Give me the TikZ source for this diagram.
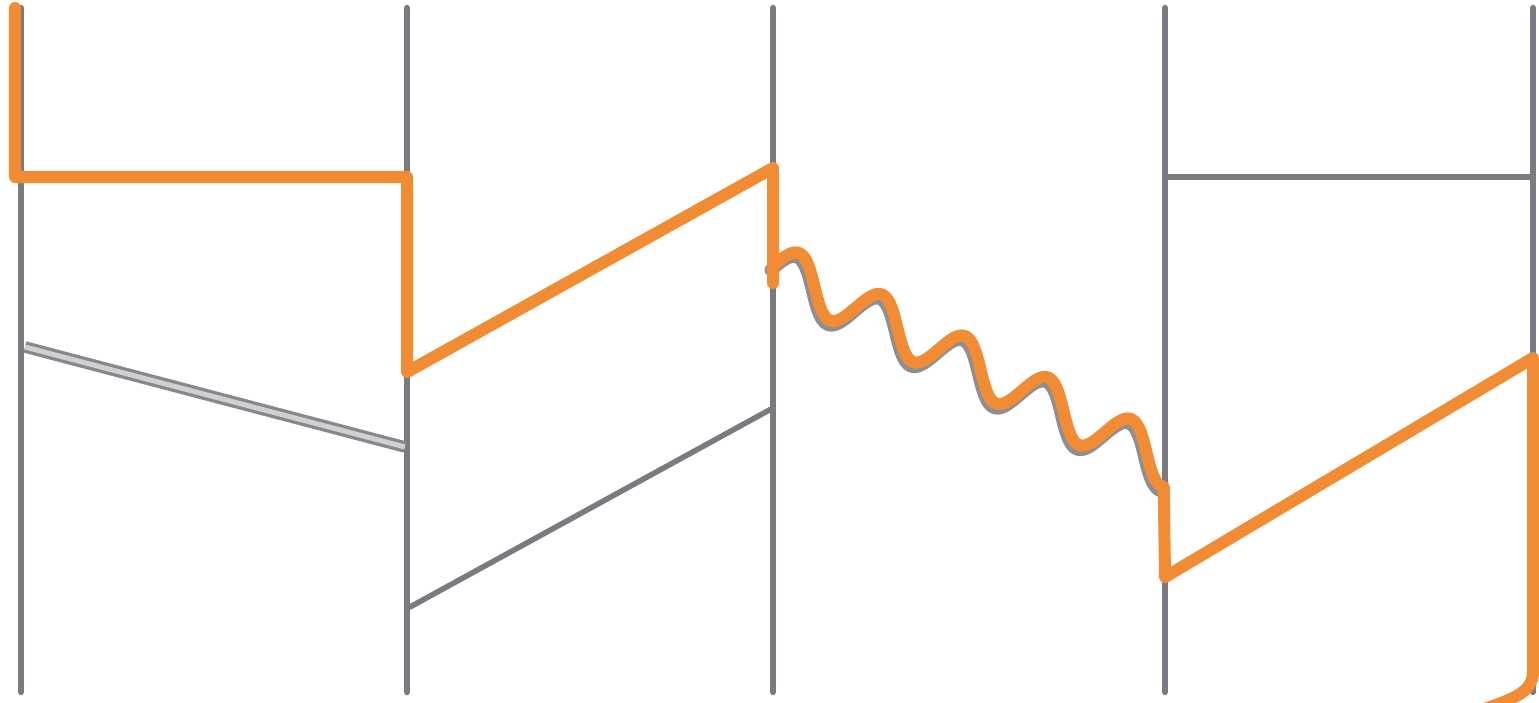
\documentclass[tikz,border=0pt]{standalone}
\usepackage{tikz}
\usetikzlibrary{calc}
\usepackage{xcolor}
\definecolor{hoporange}{RGB}{242,140,52}
\definecolor{lanegray}{RGB}{122,122,128}
\tikzset{
  lane/.style={draw=lanegray, line width=0.065cm, line cap=round},
  msg/.style={draw=lanegray, line width=0.055cm, line cap=round},
  msgD/.style={draw=lanegray!90, double=lanegray!35,
    double distance=0.05cm, line width=0.033cm},
  hop/.style={draw=hoporange, line width=0.12cm,
    line cap=round, line join=round},
  hopS/.style={draw=lanegray!85, line width=0.13cm, line cap=round},
}

\begin{document}
\begin{tikzpicture}[x=0.01cm, y=-0.01cm]
  % Frame (pixel grid of the sketch)
  \useasboundingbox (0,0) rectangle (1539,703);

  % Vertical lanes
  \draw[lane] (21,8)   -- (21,692);
  \draw[lane] (407,8)  -- (407,692);
  \draw[lane] (773,8)  -- (773,692);
  \draw[lane] (1165,8) -- (1165,692);
  \draw[lane] (1533,8) -- (1533,692);

  % Grey crossings
  \draw[msgD] (25,347)  -- (405,447);
  \draw[msg]  (410,607) -- (773,408);
  \draw[msg]  (1165,177) -- (1533,177);

  % Shadow under the wavy hop
  \begin{scope}[xshift=-0.02cm, yshift=-0.04cm]
    \draw[hopS] plot[domain=0:1720, samples=240]
      ({773 + 0.2306*\x + 6*sin(\x)}, {266 + 0.1153*\x - 23*sin(\x)});
  \end{scope}

  % Orange route
  \draw[hop] (15,8) -- (15,177) -- (407,177) -- (407,372)
       -- (773,168) -- (773,283)
       plot[domain=0:1720, samples=240]
         ({773 + 0.2306*\x + 6*sin(\x)}, {266 + 0.1153*\x - 23*sin(\x)})
       -- (1165,577) -- (1533,358) -- (1533,672)
       .. controls (1533,694) and (1510,700) .. (1470,714);
\end{tikzpicture}
\end{document}
